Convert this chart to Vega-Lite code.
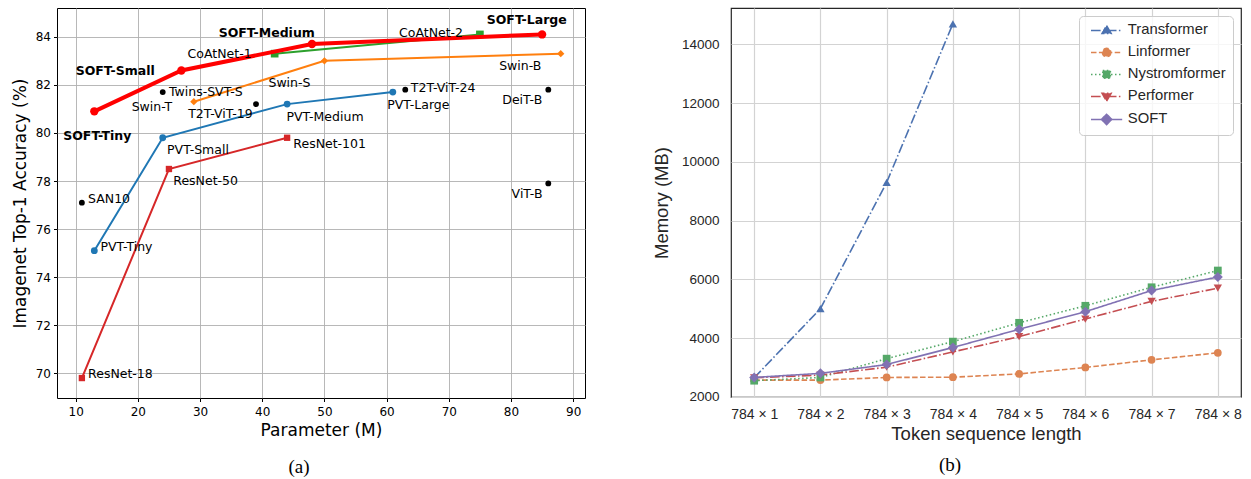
{
  "$schema": "https://vega.github.io/schema/vega-lite/v6.json",
  "padding": {"left": 10, "top": 7, "right": 0, "bottom": 0},
  "background": "white",
  "config": {"font": "DejaVu Sans", "view": {"stroke": null}},
  "datasets": {
    "models": [
      {"family": "SOFT", "model": "SOFT-Tiny", "params": 13, "acc": 80.9, "lx": 8.0, "ly": 79.86},
      {"family": "SOFT", "model": "SOFT-Small", "params": 27, "acc": 82.6, "lx": 10.0, "ly": 82.57},
      {"family": "SOFT", "model": "SOFT-Medium", "params": 48, "acc": 83.7, "lx": 33.0, "ly": 84.17},
      {"family": "SOFT", "model": "SOFT-Large", "params": 85, "acc": 84.1, "lx": 76.1, "ly": 84.68},
      {"family": "CoAtNet", "model": "CoAtNet-1", "params": 42, "acc": 83.3, "lx": 28.0, "ly": 83.27},
      {"family": "CoAtNet", "model": "CoAtNet-2", "params": 75, "acc": 84.1, "lx": 62.0, "ly": 84.17},
      {"family": "Swin", "model": "Swin-T", "params": 29, "acc": 81.3, "lx": 19.0, "ly": 81.07},
      {"family": "Swin", "model": "Swin-S", "params": 50, "acc": 83.0, "lx": 41.0, "ly": 82.08},
      {"family": "Swin", "model": "Swin-B", "params": 88, "acc": 83.3, "lx": 78.1, "ly": 82.78},
      {"family": "PVT", "model": "PVT-Tiny", "params": 13, "acc": 75.1, "lx": 14.0, "ly": 75.25},
      {"family": "PVT", "model": "PVT-Small", "params": 24, "acc": 79.8, "lx": 24.7, "ly": 79.28},
      {"family": "PVT", "model": "PVT-Medium", "params": 44, "acc": 81.2, "lx": 43.9, "ly": 80.67},
      {"family": "PVT", "model": "PVT-Large", "params": 61, "acc": 81.7, "lx": 60.1, "ly": 81.17},
      {"family": "ResNet", "model": "ResNet-18", "params": 11, "acc": 69.8, "lx": 12.0, "ly": 69.95},
      {"family": "ResNet", "model": "ResNet-50", "params": 25, "acc": 78.5, "lx": 25.7, "ly": 77.98},
      {"family": "ResNet", "model": "ResNet-101", "params": 44, "acc": 79.8, "lx": 45.0, "ly": 79.56},
      {"family": "Other", "model": "Twins-SVT-S", "params": 24, "acc": 81.7, "lx": 25.0, "ly": 81.71},
      {"family": "Other", "model": "T2T-ViT-19", "params": 39, "acc": 81.2, "lx": 28.1, "ly": 80.79},
      {"family": "Other", "model": "T2T-ViT-24", "params": 63, "acc": 81.8, "lx": 63.9, "ly": 81.88},
      {"family": "Other", "model": "DeiT-B", "params": 86, "acc": 81.8, "lx": 78.6, "ly": 81.37},
      {"family": "Other", "model": "ViT-B", "params": 86, "acc": 77.9, "lx": 80.1, "ly": 77.46},
      {"family": "Other", "model": "SAN10", "params": 11, "acc": 77.1, "lx": 12.0, "ly": 77.27}
    ],
    "memory": [
      {"method": "Transformer", "n": 1, "mb": 2650},
      {"method": "Transformer", "n": 2, "mb": 5000},
      {"method": "Transformer", "n": 3, "mb": 9300},
      {"method": "Transformer", "n": 4, "mb": 14700},
      {"method": "Linformer", "n": 1, "mb": 2570},
      {"method": "Linformer", "n": 2, "mb": 2570},
      {"method": "Linformer", "n": 3, "mb": 2660},
      {"method": "Linformer", "n": 4, "mb": 2670},
      {"method": "Linformer", "n": 5, "mb": 2780},
      {"method": "Linformer", "n": 6, "mb": 3000},
      {"method": "Linformer", "n": 7, "mb": 3260},
      {"method": "Linformer", "n": 8, "mb": 3500},
      {"method": "Nystromformer", "n": 1, "mb": 2550},
      {"method": "Nystromformer", "n": 2, "mb": 2660},
      {"method": "Nystromformer", "n": 3, "mb": 3300},
      {"method": "Nystromformer", "n": 4, "mb": 3880},
      {"method": "Nystromformer", "n": 5, "mb": 4520},
      {"method": "Nystromformer", "n": 6, "mb": 5100},
      {"method": "Nystromformer", "n": 7, "mb": 5730},
      {"method": "Nystromformer", "n": 8, "mb": 6300},
      {"method": "Performer", "n": 1, "mb": 2650},
      {"method": "Performer", "n": 2, "mb": 2740},
      {"method": "Performer", "n": 3, "mb": 3010},
      {"method": "Performer", "n": 4, "mb": 3530},
      {"method": "Performer", "n": 5, "mb": 4050},
      {"method": "Performer", "n": 6, "mb": 4650},
      {"method": "Performer", "n": 7, "mb": 5250},
      {"method": "Performer", "n": 8, "mb": 5700},
      {"method": "SOFT", "n": 1, "mb": 2660},
      {"method": "SOFT", "n": 2, "mb": 2800},
      {"method": "SOFT", "n": 3, "mb": 3100},
      {"method": "SOFT", "n": 4, "mb": 3680},
      {"method": "SOFT", "n": 5, "mb": 4300},
      {"method": "SOFT", "n": 6, "mb": 4900},
      {"method": "SOFT", "n": 7, "mb": 5620},
      {"method": "SOFT", "n": 8, "mb": 6080}
    ]
  },
  "resolve": {"scale": {"color": "independent", "shape": "independent", "size": "independent", "strokeDash": "independent"}},
  "spacing": 65,
  "hconcat": [
    {
      "width": 528,
      "height": 390,
      "view": {"stroke": "black", "strokeWidth": 1},
      "title": {"text": "(a)", "orient": "bottom", "font": "Liberation Serif", "fontSize": 19, "fontWeight": "normal", "color": "black", "anchor": "middle", "frame": "group", "dx": -22, "offset": 20},
      "data": {"name": "models"},
      "encoding": {
        "x": {"field": "params", "type": "quantitative", "scale": {"domain": [7.0, 91.9], "nice": false, "zero": false},
          "axis": {"values": [10, 20, 30, 40, 50, 60, 70, 80, 90], "title": "Parameter (M)", "titleFont": "DejaVu Sans", "titleFontSize": 17, "titleFontWeight": "normal", "titleColor": "black", "titlePadding": 5,
            "labelFont": "DejaVu Sans", "labelFontSize": 12, "labelColor": "black", "tickColor": "black", "tickSize": 3.5, "tickWidth": 1, "labelPadding": 4.5, "domain": false, "gridColor": "#b0b0b0", "gridWidth": 0.9}},
        "y": {"field": "acc", "type": "quantitative", "scale": {"domain": [68.97, 85.2], "nice": false, "zero": false},
          "axis": {"values": [70, 72, 74, 76, 78, 80, 82, 84], "title": "Imagenet Top-1 Accuracy (%)", "titleFont": "DejaVu Sans", "titleFontSize": 17, "titleFontWeight": "normal", "titleColor": "black", "titlePadding": 6,
            "labelFont": "DejaVu Sans", "labelFontSize": 12, "labelColor": "black", "tickColor": "black", "tickSize": 3.5, "tickWidth": 1, "labelPadding": 3, "domain": false, "gridColor": "#b0b0b0", "gridWidth": 0.9}}
      },
      "layer": [
        {
          "transform": [{"filter": "indexof(['CoAtNet','Swin','PVT','ResNet'], datum.family) >= 0"}],
          "mark": {"type": "line", "strokeWidth": 2},
          "encoding": {
            "color": {"field": "family", "type": "nominal", "scale": {"domain": ["SOFT", "CoAtNet", "Swin", "PVT", "ResNet", "Other"], "range": ["#ff0000", "#2ca02c", "#ff7f0e", "#1f77b4", "#d62728", "black"]}, "legend": null}
          }
        },
        {
          "transform": [{"filter": "datum.family !== 'SOFT'"}],
          "mark": {"type": "point", "filled": true, "opacity": 1},
          "encoding": {
            "color": {"field": "family", "type": "nominal", "scale": {"domain": ["SOFT", "CoAtNet", "Swin", "PVT", "ResNet", "Other"], "range": ["#ff0000", "#2ca02c", "#ff7f0e", "#1f77b4", "#d62728", "black"]}, "legend": null},
            "shape": {"field": "family", "type": "nominal", "scale": {"domain": ["SOFT", "CoAtNet", "Swin", "PVT", "ResNet", "Other"], "range": ["circle", "square", "diamond", "circle", "square", "circle"]}, "legend": null},
            "size": {"field": "family", "type": "nominal", "scale": {"domain": ["SOFT", "CoAtNet", "Swin", "PVT", "ResNet", "Other"], "range": [65, 34, 48, 22, 32, 17]}, "legend": null}
          }
        },
        {
          "transform": [{"filter": "datum.family === 'SOFT'"}],
          "mark": {"type": "line", "strokeWidth": 4, "color": "#ff0000"},
          "encoding": {}
        },
        {
          "transform": [{"filter": "datum.family === 'SOFT'"}],
          "mark": {"type": "point", "filled": true, "opacity": 1, "shape": "circle", "size": 70, "color": "#ff0000"},
          "encoding": {}
        },
        {
          "transform": [{"filter": "datum.family !== 'SOFT'"}],
          "mark": {"type": "text", "align": "left", "baseline": "middle", "font": "DejaVu Sans", "fontSize": 12.5, "color": "black"},
          "encoding": {
            "x": {"field": "lx", "type": "quantitative"},
            "y": {"field": "ly", "type": "quantitative"},
            "text": {"field": "model"}
          }
        },
        {
          "transform": [{"filter": "datum.family === 'SOFT'"}],
          "mark": {"type": "text", "align": "left", "baseline": "middle", "font": "DejaVu Sans", "fontSize": 12.5, "fontWeight": "bold", "color": "black"},
          "encoding": {
            "x": {"field": "lx", "type": "quantitative"},
            "y": {"field": "ly", "type": "quantitative"},
            "text": {"field": "model"}
          }
        }
      ]
    },
    {
      "width": 510,
      "height": 389,
      "view": {"stroke": "#262626", "strokeWidth": 1.2},
      "title": {"text": "(b)", "orient": "bottom", "font": "Liberation Serif", "fontSize": 19, "fontWeight": "normal", "color": "black", "anchor": "middle", "frame": "group", "dx": -36, "offset": 13},
      "data": {"name": "memory"},
      "encoding": {
        "x": {"field": "n", "type": "quantitative", "scale": {"domain": [0.65, 8.35], "nice": false, "zero": false},
          "axis": {"values": [1, 2, 3, 4, 5, 6, 7, 8], "labelExpr": "'784 × ' + datum.value", "title": "Token sequence length", "titleFont": "Liberation Sans", "titleFontSize": 18.5, "titleFontWeight": "normal", "titleColor": "#262626", "titlePadding": 3,
            "labelFont": "Liberation Sans", "labelFontSize": 14, "labelColor": "#262626", "ticks": false, "labelPadding": 10, "domain": false, "gridColor": "#d3d3d3", "gridWidth": 1.2}},
        "y": {"field": "mb", "type": "quantitative", "scale": {"domain": [1995, 15237], "nice": false, "zero": false},
          "axis": {"values": [2000, 4000, 6000, 8000, 10000, 12000, 14000], "format": "d", "title": "Memory (MB)", "titleFont": "Liberation Sans", "titleFontSize": 18.5, "titleFontWeight": "normal", "titleColor": "#262626", "titlePadding": 10,
            "labelFont": "Liberation Sans", "labelFontSize": 13.5, "labelColor": "#262626", "ticks": false, "labelPadding": 12, "domain": false, "gridColor": "#d3d3d3", "gridWidth": 1.2}}
      },
      "layer": [
        {
          "mark": {"type": "line", "strokeWidth": 1.6},
          "encoding": {
            "color": {"field": "method", "type": "nominal",
              "scale": {"domain": ["Transformer", "Linformer", "Nystromformer", "Performer", "SOFT"], "range": ["#4c72b0", "#dd8452", "#55a868", "#c44e52", "#8172b3"]},
              "legend": {"orient": "top-right", "offset": 8, "title": null, "labelFont": "Liberation Sans", "labelFontSize": 14.8, "labelColor": "#262626",
                "fillColor": "rgba(255,255,255,0.8)", "strokeColor": "#cccccc", "cornerRadius": 4, "padding": 7, "rowPadding": 6, "symbolSize": 64, "labelOffset": 27,
                "encode": {"symbols": {"update": {
                  "shape": {"signal": "datum.value === 'Transformer' ? 'M-0.6,0L7.2,0M3.3,-1.2L4.45,0.8L2.15,0.8Z' : datum.value === 'Linformer' ? 'M-0.6,0L7.2,0M4.35,0A1.05,1.05 0 1,1 2.25,0A1.05,1.05 0 1,1 4.35,0Z' : datum.value === 'Nystromformer' ? 'M-0.6,0L7.2,0M2.35,-0.95L4.25,-0.95L4.25,0.95L2.35,0.95Z' : datum.value === 'Performer' ? 'M-0.6,0L7.2,0M3.3,1.2L4.45,-0.8L2.15,-0.8Z' : 'M-0.6,0L7.2,0M3.3,-1.3L4.6,0L3.3,1.3L2.0,0Z'"},
                  "strokeDash": {"signal": "datum.value === 'Transformer' || datum.value === 'Performer' ? [9.6, 2.4, 1.5, 2.4] : datum.value === 'Linformer' ? [5.5, 2.4] : datum.value === 'Nystromformer' ? [1.5, 2.5] : [1, 0]"},
                  "fill": {"signal": "datum.value === 'Transformer' ? '#4c72b0' : datum.value === 'Linformer' ? '#dd8452' : datum.value === 'Nystromformer' ? '#55a868' : datum.value === 'Performer' ? '#c44e52' : '#8172b3'"},
                  "stroke": {"signal": "datum.value === 'Transformer' ? '#4c72b0' : datum.value === 'Linformer' ? '#dd8452' : datum.value === 'Nystromformer' ? '#55a868' : datum.value === 'Performer' ? '#c44e52' : '#8172b3'"},
                  "strokeWidth": {"value": 1.5},
                  "opacity": {"value": 1}
                }}}}},
            "strokeDash": {"field": "method", "type": "nominal",
              "scale": {"domain": ["Transformer", "Linformer", "Nystromformer", "Performer", "SOFT"], "range": [[9.6, 2.4, 1.5, 2.4], [5.5, 2.4], [1.5, 2.5], [9.6, 2.4, 1.5, 2.4], [1, 0]]}, "legend": null}
          }
        },
        {
          "transform": [{"filter": "datum.method === 'Transformer'"}],
          "mark": {"type": "point", "filled": true, "opacity": 1, "shape": "triangle-up", "size": 70, "color": "#4c72b0"},
          "encoding": {}
        },
        {
          "transform": [{"filter": "datum.method === 'Linformer'"}],
          "mark": {"type": "point", "filled": true, "opacity": 1, "shape": "circle", "size": 60, "color": "#dd8452"},
          "encoding": {}
        },
        {
          "transform": [{"filter": "datum.method === 'Nystromformer'"}],
          "mark": {"type": "point", "filled": true, "opacity": 1, "shape": "square", "size": 60, "color": "#55a868"},
          "encoding": {}
        },
        {
          "transform": [{"filter": "datum.method === 'Performer'"}],
          "mark": {"type": "point", "filled": true, "opacity": 1, "shape": "triangle-down", "size": 70, "color": "#c44e52"},
          "encoding": {}
        },
        {
          "transform": [{"filter": "datum.method === 'SOFT'"}],
          "mark": {"type": "point", "filled": true, "opacity": 1, "shape": "diamond", "size": 100, "color": "#8172b3"},
          "encoding": {}
        }
      ]
    }
  ]
}
